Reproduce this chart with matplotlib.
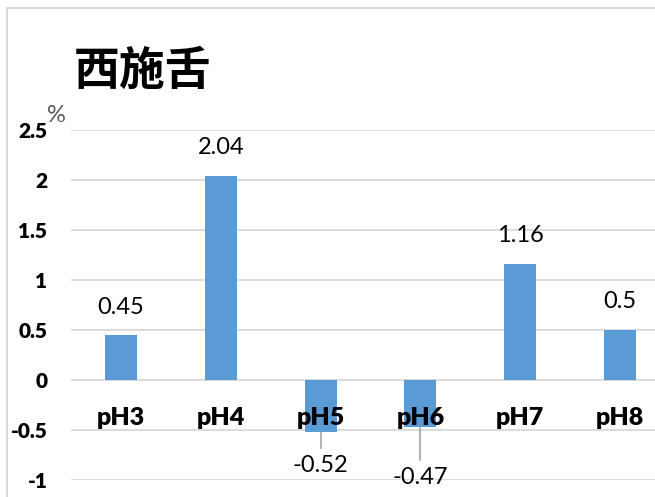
import matplotlib
matplotlib.use("Agg")
import matplotlib.pyplot as plt
from matplotlib.patches import Rectangle

categories = ["pH3", "pH4", "pH5", "pH6", "pH7", "pH8"]
values = [0.45, 2.04, -0.52, -0.47, 1.16, 0.5]
y_ticks = [2.5, 2, 1.5, 1, 0.5, 0, -0.5, -1]
y_tick_labels = ["2.5", "2", "1.5", "1", "0.5", "0", "-0.5", "-1"]
title = "西施舌"
unit = "%"

BAR = "#5B9BD5"
GRID = "#D9D9D9"
LATIN = ["Lato", "DejaVu Sans"]

W, H = 655, 497
fig = plt.figure(figsize=(W / 100, H / 100), dpi=100)

# plot area: category slots are 100 px wide, right end runs past the canvas
left_px, right_px, top_px, bot_px = 71, 670, 130, 480
ax = fig.add_axes([left_px / W, 1 - bot_px / H,
                   (right_px - left_px) / W, (bot_px - top_px) / H])
ax.set_xlim(-0.5, len(categories) - 0.5)
ax.set_ylim(-1, 2.5)

for yt in y_ticks:
    ax.axhline(yt, color=GRID, lw=1.3, zorder=0)

x = list(range(len(categories)))
ax.bar(x, values, width=0.32, color=BAR, zorder=2)

for s in ax.spines.values():
    s.set_visible(False)
ax.set_xticks([])
ax.set_yticks(y_ticks)
ax.set_yticklabels(y_tick_labels, fontfamily=LATIN, fontweight="heavy", fontsize=15)
ax.tick_params(axis="y", length=0, pad=17)
ax.patch.set_alpha(0)

# category names sit just under the zero line
for xi, cat in zip(x, categories):
    ax.text(xi, -0.38, cat, ha="center", va="center", fontfamily=LATIN,
            fontweight="heavy", fontsize=18, zorder=3)

# value labels; negative ones are pulled below with a leader line
for xi, v in zip(x, values):
    lbl = f"{v:g}"
    if v >= 0:
        ax.text(xi, v + 0.28, lbl, ha="center", va="center", fontfamily=LATIN,
                fontsize=17, zorder=3)
    else:
        drop = 0.33 if xi == 2 else 0.50
        ly = v - drop
        ax.plot([xi, xi], [v, ly + 0.17], color="#A6A6A6", lw=1.2, zorder=1)
        ax.text(xi, ly, lbl, ha="center", va="center", fontfamily=LATIN,
                fontsize=17, zorder=3)

# unit marker beside the top tick
fig.text(56 / W, 1 - 116 / H, unit, ha="center", va="center",
         fontfamily=LATIN, fontsize=17, color="#595959")

# chart title
fig.text(74 / W, 1 - 72 / H, title, ha="left", va="center",
         fontfamily=["Noto Sans CJK SC", "DejaVu Sans"], fontweight="bold",
         fontsize=33)

# outer chart frame (left and top edges visible)
fig.add_artist(Rectangle((7 / W, -0.1), 1.1, 1 - 8 / H + 0.1,
                         transform=fig.transFigure, fill=False,
                         edgecolor=GRID, lw=1.5))

fig.savefig("out.png", dpi=100, facecolor="white")
